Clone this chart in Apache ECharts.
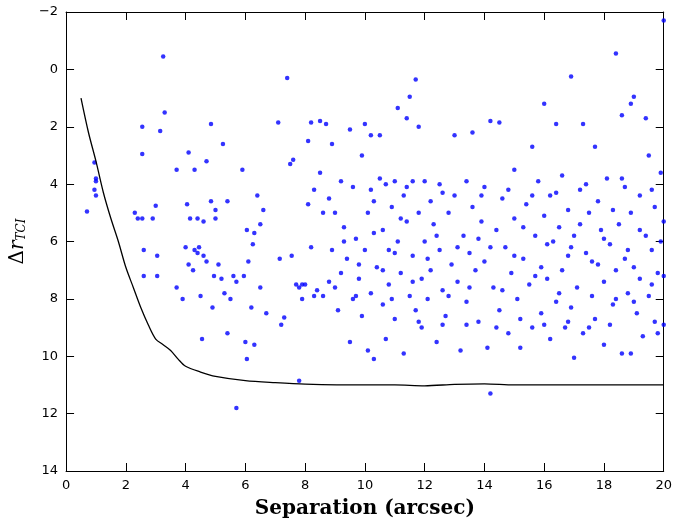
<!DOCTYPE html>
<html><head><meta charset="utf-8">
<script src="https://cdn.jsdelivr.net/npm/echarts@6/dist/echarts.min.js"></script>
<style>body{margin:0}#chart{width:675px;height:524px}</style></head>
<body><div id="chart"></div>
<script>
// detection limit curve
const limitCurve = [[0.5,1.0],[0.75,2.2],[1,3.2],[1.25,4.3],[1.5,5.2],[1.75,6.0],[2,6.9],[2.25,7.6],[2.5,8.3],[2.75,8.9],[3,9.4],[3.25,9.6],[3.5,9.8],[3.75,10.1],[4,10.35],[4.5,10.55],[5,10.7],[6,10.85],[7,10.92],[8,10.97],[10,11.0],[11,11.0],[12,11.03],[13,10.98],[14,10.96],[15,11.0],[17,11.0],[20,11.0]];

// sources (separation, delta r)
const sources = [
[0.7,4.95],[0.95,3.25],[1.0,3.8],[1.0,3.9],[0.95,4.2],[1.0,4.4],[3.25,-0.45],[3.3,1.5],[3.15,2.15],[2.55,2.0],[2.55,2.95],
[2.3,5.0],[2.4,5.2],[2.55,5.2],[2.6,6.3],[2.6,7.2],[2.9,5.2],[3.0,4.75],[3.05,7.2],[3.05,6.5],[3.7,3.5],[3.7,7.6],[3.9,8.0],
[4.0,6.2],[4.05,4.7],[4.1,2.9],[4.1,6.8],[4.15,5.2],[4.25,7.0],[4.3,3.5],[4.3,6.3],[4.4,5.2],[4.4,6.4],[4.45,6.2],[4.5,7.9],
[4.55,9.4],[4.6,5.3],[4.6,6.5],[4.7,3.2],[4.7,6.7],[4.85,1.9],[4.85,4.6],[4.9,8.3],[4.95,7.2],[5.0,5.2],[5.0,4.9],[5.1,6.8],
[5.2,7.3],[5.25,2.6],[5.3,7.8],[5.4,4.6],[5.4,9.2],[5.5,8.0],[5.6,7.2],[5.7,7.4],[5.7,11.8],[5.9,3.5],[5.95,7.2],[6.0,9.5],
[6.05,10.1],[6.05,5.6],[6.1,6.7],[6.2,8.3],[6.25,6.1],[6.3,9.6],[6.3,5.7],[6.4,4.4],[6.5,5.4],[6.6,4.9],[6.7,8.5],[6.5,7.6],
[7.1,1.85],[7.15,6.6],[7.2,8.9],[7.3,8.65],[7.4,0.3],[7.5,3.3],[7.55,6.5],[7.6,3.15],[7.7,7.5],[7.8,10.85],[7.8,7.6],[7.9,7.5],
[7.9,8.0],[8.0,7.5],[8.1,2.5],[8.2,1.85],[8.2,6.2],[8.3,7.9],[8.4,7.7],[8.5,1.8],[8.6,7.9],[8.7,1.9],[8.1,4.7],[8.3,4.2],
[8.5,3.6],[8.6,5.0],[8.8,4.5],[8.9,2.6],[8.9,6.3],[9.0,7.6],[9.1,8.4],[9.2,3.9],[9.2,7.1],[9.3,5.5],[9.4,6.6],[9.5,2.1],
[9.5,9.5],[9.6,4.1],[9.6,8.0],[9.7,5.9],[9.8,7.3],[9.9,3.0],[9.9,8.6],[10.0,1.9],[10.0,6.3],[10.1,5.0],[10.1,9.8],[10.2,2.3],
[10.2,7.8],[10.3,4.6],[10.3,10.1],[10.4,6.9],[10.5,2.3],[10.5,3.8],[10.6,5.6],[10.6,8.2],[10.7,4.0],[10.7,9.4],[10.8,6.3],
[10.8,7.5],[10.9,4.8],[11.0,3.9],[11.0,8.7],[11.1,1.35],[11.1,6.0],[11.2,7.1],[11.3,4.4],[11.3,9.9],[11.4,1.7],[11.4,5.3],
[11.5,0.95],[11.5,7.9],[11.6,3.9],[11.6,6.5],[11.7,0.35],[11.7,8.4],[11.8,2.0],[11.8,5.0],[11.9,7.3],[11.9,9.0],[12.0,3.9],
[12.0,6.0],[12.1,8.0],[12.2,4.6],[12.2,7.0],[12.3,5.4],[12.4,9.5],[12.5,6.3],[12.5,4.0],[12.6,7.7],[12.7,8.6],[12.8,5.0],
[12.9,6.8],[13.0,2.3],[13.0,4.4],[13.1,7.4],[13.2,9.8],[13.3,5.8],[13.4,3.9],[13.4,8.1],[13.5,6.4],[13.6,2.2],[13.6,4.8],
[13.7,7.0],[13.8,8.8],[13.9,5.3],[14.0,4.1],[14.0,6.7],[14.1,9.7],[14.2,1.8],[14.2,11.3],[14.3,7.6],[14.4,5.6],[14.5,1.85],
[14.5,8.4],[14.6,4.5],[14.7,6.2],[14.8,9.2],[14.9,7.1],[15.0,3.5],[15.0,5.2],[15.1,8.0],[15.2,9.7],[15.3,6.6],[15.4,4.7],
[15.5,7.5],[15.6,2.7],[15.6,9.0],[15.7,5.8],[15.8,3.9],[15.9,6.9],[15.9,8.5],[16.0,1.2],[16.0,5.1],[16.1,7.3],[16.2,4.4],
[16.2,9.4],[16.3,6.0],[16.4,8.1],[16.4,1.9],[16.5,5.5],[16.6,3.7],[16.6,7.0],[16.7,9.0],[16.8,4.9],[16.8,6.5],[16.9,0.25],
[16.9,8.3],[17.0,10.05],[17.0,5.8],[17.1,7.6],[17.2,4.2],[17.3,1.9],[17.3,9.2],[17.4,6.4],[17.5,5.0],[17.6,7.9],[17.7,2.7],
[17.7,8.7],[17.8,4.6],[17.8,6.8],[17.9,5.6],[18.0,7.4],[18.0,9.6],[18.1,3.8],[18.2,6.1],[18.3,8.2],[18.3,4.9],[18.4,-0.55],
[18.4,7.0],[18.5,5.4],[18.6,1.6],[18.6,9.9],[18.7,6.6],[18.7,4.1],[18.8,7.8],[18.9,1.2],[18.9,5.0],[18.9,9.9],[19.0,0.95],
[19.0,6.9],[19.1,8.5],[19.2,4.4],[19.2,7.3],[19.3,9.3],[19.4,5.8],[19.4,1.7],[19.5,3.0],[19.5,7.9],[19.6,6.3],[19.7,8.8],
[19.7,4.8],[19.8,7.1],[19.9,3.6],[19.9,6.0],[20.0,-1.7],[20.0,8.9],[20.0,5.3],
[9.0,5.0],[9.3,6.0],[9.8,6.8],[10.3,5.7],[10.6,7.0],[11.0,6.4],[11.2,5.2],[11.6,7.4],[12.1,6.6],[12.4,5.8],[12.8,7.9],
[13.1,6.2],[13.5,7.6],[13.8,5.9],[14.2,6.2],[14.6,7.7],[15.0,6.5],[15.3,5.5],[15.7,7.2],[16.1,6.1],[16.5,7.8],[16.9,6.2],
[17.2,5.4],[17.6,6.7],[18.0,5.9],[18.4,8.0],[18.8,6.3],[19.2,5.6],[19.6,7.5],[20.0,7.2],[8.8,7.4],[9.7,7.9],[10.9,8.0],
[11.8,8.8],[12.6,8.9],[13.4,8.9],[14.4,9.0],[15.2,8.7],[16.0,8.9],[16.8,8.8],[17.5,9.0],[18.2,8.9],[19.0,8.1],[19.8,9.2],
[10.2,4.2],[11.4,4.1],[12.6,4.3],[13.9,4.4],[14.8,4.2],[15.6,4.4],[16.4,4.3],[17.4,4.0],[18.6,3.8],[19.6,4.2]
];

const chart = echarts.init(document.getElementById('chart'));
const ax = {axisLine:{show:true,onZero:false,lineStyle:{color:'#000',width:1}},
  axisTick:{inside:true,length:8,lineStyle:{color:'#000'}},
  minorTick:{show:false},splitLine:{show:false}};
chart.setOption({
  animation:false,
  grid:{left:64,right:10,top:12,bottom:46},
  xAxis:[
    Object.assign({type:'value',min:0,max:20,interval:2,
      axisLabel:{color:'#000',fontSize:13,fontFamily:'DejaVu Sans'},
      name:'Separation (arcsec)',nameLocation:'middle',nameGap:28,
      nameTextStyle:{fontSize:20,fontWeight:'bold',fontFamily:'DejaVu Serif',color:'#000'}},ax),
    Object.assign({type:'value',min:0,max:20,interval:2,position:'top',axisLabel:{show:false}},ax)
  ],
  yAxis:[
    Object.assign({type:'value',min:-2,max:14,interval:2,inverse:true,
      axisLabel:{color:'#000',fontSize:13,fontFamily:'DejaVu Sans',formatter:v=>v<0?'\u2212'+(-v):v},
      name:'{d|Δ}{r|r}{s|TCI}',nameLocation:'middle',nameGap:38,nameRotate:90,
      nameTextStyle:{rich:{d:{fontSize:20,fontFamily:'DejaVu Serif',color:'#000'},
        r:{fontSize:20,fontStyle:'italic',fontFamily:'DejaVu Serif',color:'#000'},
        s:{fontSize:12,fontStyle:'italic',fontFamily:'DejaVu Serif',color:'#000',verticalAlign:'bottom',padding:[8,0,0,0]}}}},ax),
    Object.assign({type:'value',min:-2,max:14,interval:2,inverse:true,position:'right',axisLabel:{show:false}},ax)
  ],
  series:[
    {type:'line',data:limitCurve,showSymbol:false,smooth:0.3,lineStyle:{color:'#000',width:1.3}},
    {type:'scatter',data:sources,symbolSize:4.5,itemStyle:{color:'#0000ff'}}
  ]
});
</script></body></html>
